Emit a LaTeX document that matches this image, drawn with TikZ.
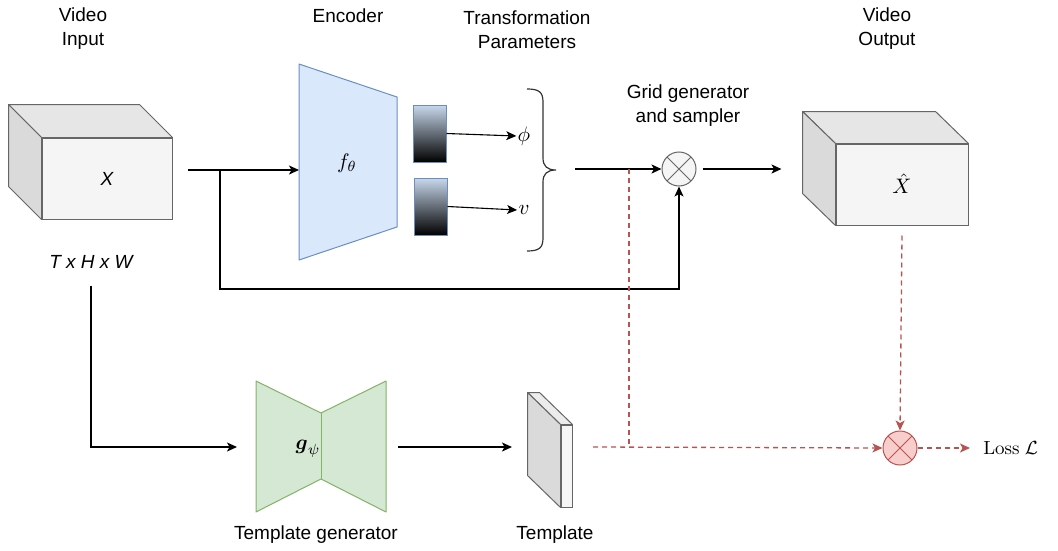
\documentclass[tikz,border=0pt]{standalone}
\usepackage{amsmath,amssymb}
\usepackage{graphicx}
\usepackage[no-math]{fontspec}
\setmainfont{Liberation Sans}
\usetikzlibrary{arrows.meta,calc}

\definecolor{edgegray}{HTML}{666666}
\definecolor{facefront}{HTML}{F5F5F5}
\definecolor{facetop}{HTML}{E6E6E6}
\definecolor{faceside}{HTML}{DADADA}
\definecolor{encfill}{HTML}{DAE8FC}
\definecolor{encline}{HTML}{6C8EBF}
\definecolor{genfill}{HTML}{D5E8D4}
\definecolor{genline}{HTML}{82B366}
\definecolor{lossline}{HTML}{B85450}
\definecolor{lossfill}{HTML}{F8CECC}
\definecolor{gradtop}{HTML}{C8D8EC}

\tikzset{
  lbl/.style={font=\fontsize{19}{24}\selectfont, align=center, inner sep=0pt},
  mathlbl/.style={font=\normalsize, inner sep=0.5pt, scale=2.1},
  lossmath/.style={font=\normalsize, inner sep=0.5pt, scale=1.9},
  face/.style={draw=edgegray, line width=1pt, fill=facefront, inner sep=0pt},
  conn/.style={draw=black, line width=1.3pt, -{Stealth[length=10pt,width=9pt,inset=2.5pt]}},
  thinconn/.style={conn, line width=1.1pt},
  lossconn/.style={draw=lossline, line width=1.3pt, dash pattern=on 5pt off 4pt},
  lossarrow/.style={lossconn, -{Stealth[length=10pt,width=9pt,inset=2.5pt]}},
  gradbox/.style={draw=encline, line width=1pt, top color=gradtop, bottom color=black,
    minimum width=33pt, minimum height=57pt, inner sep=0pt},
  crossnode/.style={circle, minimum size=34pt, inner sep=0pt, line width=1pt,
    path picture={
      \draw[#1, line width=1pt] ($(path picture bounding box.center)+(-12,-12)$) -- ($(path picture bounding box.center)+(12,12)$);
      \draw[#1, line width=1pt] ($(path picture bounding box.center)+(-12,12)$) -- ($(path picture bounding box.center)+(12,-12)$);
    }},
}

\begin{document}
\begin{tikzpicture}[x=1pt,y=-1pt]
\useasboundingbox (0,0) rectangle (1058,551);

% ---------- input video volume ----------
\node[face, minimum width=130pt, minimum height=81pt] (vin) at (107,178.5) {\fontsize{19}{22}\selectfont\itshape X};
\filldraw[draw=edgegray, fill=facetop, line width=1pt, line join=round]
  (vin.north west) -- ++(-33,-33) -- ($(vin.north east)+(-33,-33)$) -- (vin.north east) -- cycle;
\filldraw[draw=edgegray, fill=faceside, line width=1pt, line join=round]
  (vin.north west) -- ++(-33,-33) -- ($(vin.south west)+(-33,-33)$) -- (vin.south west) -- cycle;
\node[lbl] (vinlbl) at (83,29) {Video\\Input};
\node[lbl, font=\fontsize{19}{22}\selectfont\itshape] (dims) at (91,262) {T x H x W};

% ---------- encoder ----------
\filldraw[draw=encline, fill=encfill, line width=1pt, line join=round]
  (299,64) -- (397,97) -- (397,227) -- (299,260) -- cycle;
\coordinate (encin) at (299,170);
\node[mathlbl] (enc) at (347,163) {$f_\theta$};
\node[lbl] (enclbl) at (348,16) {Encoder};

% ---------- transformation parameters ----------
\node[gradbox] (p1) at (429.5,133.5) {};
\node[gradbox] (p2) at (430.5,206.5) {};
\node[mathlbl] (phi) at (524,136) {$\phi$};
\node[mathlbl] (vel) at (524,210) {$v$};
\node[lbl] (tplbl) at (527,30) {Transformation\\Parameters};
\draw[black!80, line width=1.2pt]
  (527,89) .. controls (539,89) and (543,92) .. (543,102) -- (543,158)
  .. controls (543,166) and (547,170) .. (556,170)
  .. controls (547,170) and (543,174) .. (543,182) -- (543,238)
  .. controls (543,248) and (539,251) .. (527,251);
\coordinate (bout) at (575,169);

% ---------- grid generator and sampler ----------
\node[crossnode=edgegray, draw=edgegray, fill=facefront] (gs) at (679,169) {};
\node[lbl] (gslbl) at (688,106) {Grid generator\\and sampler};

% ---------- output video volume ----------
\node[face, minimum width=132pt, minimum height=81pt] (vout) at (902,184.5) {\raisebox{1.5pt}{\scalebox{2.1}{$\hat{X}$}}};
\filldraw[draw=edgegray, fill=facetop, line width=1pt, line join=round]
  (vout.north west) -- ++(-33,-32) -- ($(vout.north east)+(-33,-32)$) -- (vout.north east) -- cycle;
\filldraw[draw=edgegray, fill=faceside, line width=1pt, line join=round]
  (vout.north west) -- ++(-33,-32) -- ($(vout.south west)+(-33,-32)$) -- (vout.south west) -- cycle;
\node[lbl] (voutlbl) at (887,29) {Video\\Output};

% ---------- template generator ----------
\filldraw[draw=genline, fill=genfill, line width=1pt, line join=round]
  (256,381) -- (321,413) -- (386,381) -- (386,512) -- (321,479) -- (256,512) -- cycle;
\draw[genline, line width=1pt] (321,413) -- (321,479);
\node[mathlbl] (tg) at (308,449) {$\boldsymbol{g}_{\psi}$};
\coordinate (tgin) at (237,447);
\coordinate (tgout) at (398,447);
\node[lbl] (tglbl) at (316,535) {Template generator};

% ---------- template ----------
\node[face, minimum width=11pt, minimum height=82pt] (tpl) at (566.5,466) {};
\filldraw[draw=edgegray, fill=facetop!60!facefront, line width=1pt, line join=round]
  (tpl.north west) -- ++(-33,-32) -- ($(tpl.north east)+(-33,-32)$) -- (tpl.north east) -- cycle;
\filldraw[draw=edgegray, fill=faceside, line width=1pt, line join=round]
  (tpl.north west) -- ++(-33,-32) -- ($(tpl.south west)+(-33,-32)$) -- (tpl.south west) -- cycle;
\coordinate (tplin) at (512,447);
\coordinate (tplout) at (593,447);
\node[lbl] (tpllbl) at (555,535) {Template};

% ---------- loss ----------
\node[crossnode=lossline, draw=lossline, fill=lossfill] (lc) at (900,448) {};
\node[lossmath, anchor=west] (loss) at (982,448) {$\mathrm{Loss}\ \mathcal{L}$};

% ---------- connectors ----------
\coordinate (vinout) at (188,170);
\coordinate (split) at (220,170);
\draw[conn] (vinout) -- (encin);
\draw[conn] (split) -- ++(0,119) -| (gs.south);
\draw[thinconn] (p1.east) -- (phi.west);
\draw[thinconn] (p2.east) -- (vel.west);
\draw[conn] (bout) -- (gs.west);
\draw[conn] ([xshift=6pt]gs.east) -- ++(79,0);
\draw[conn] ([yshift=-17pt]dims.south) |- (tgin);
\draw[conn] (tgout) -- (tplin);

\coordinate (rsplit) at (629,169);
\draw[lossconn] (rsplit) -- (629,447);
\draw[lossarrow] (tplout) -- (lc.west);
\draw[lossarrow] ([yshift=-10pt]vout.south) -- (lc.north);
\draw[lossarrow] (lc.east) -- (970,448);
\end{tikzpicture}
\end{document}
